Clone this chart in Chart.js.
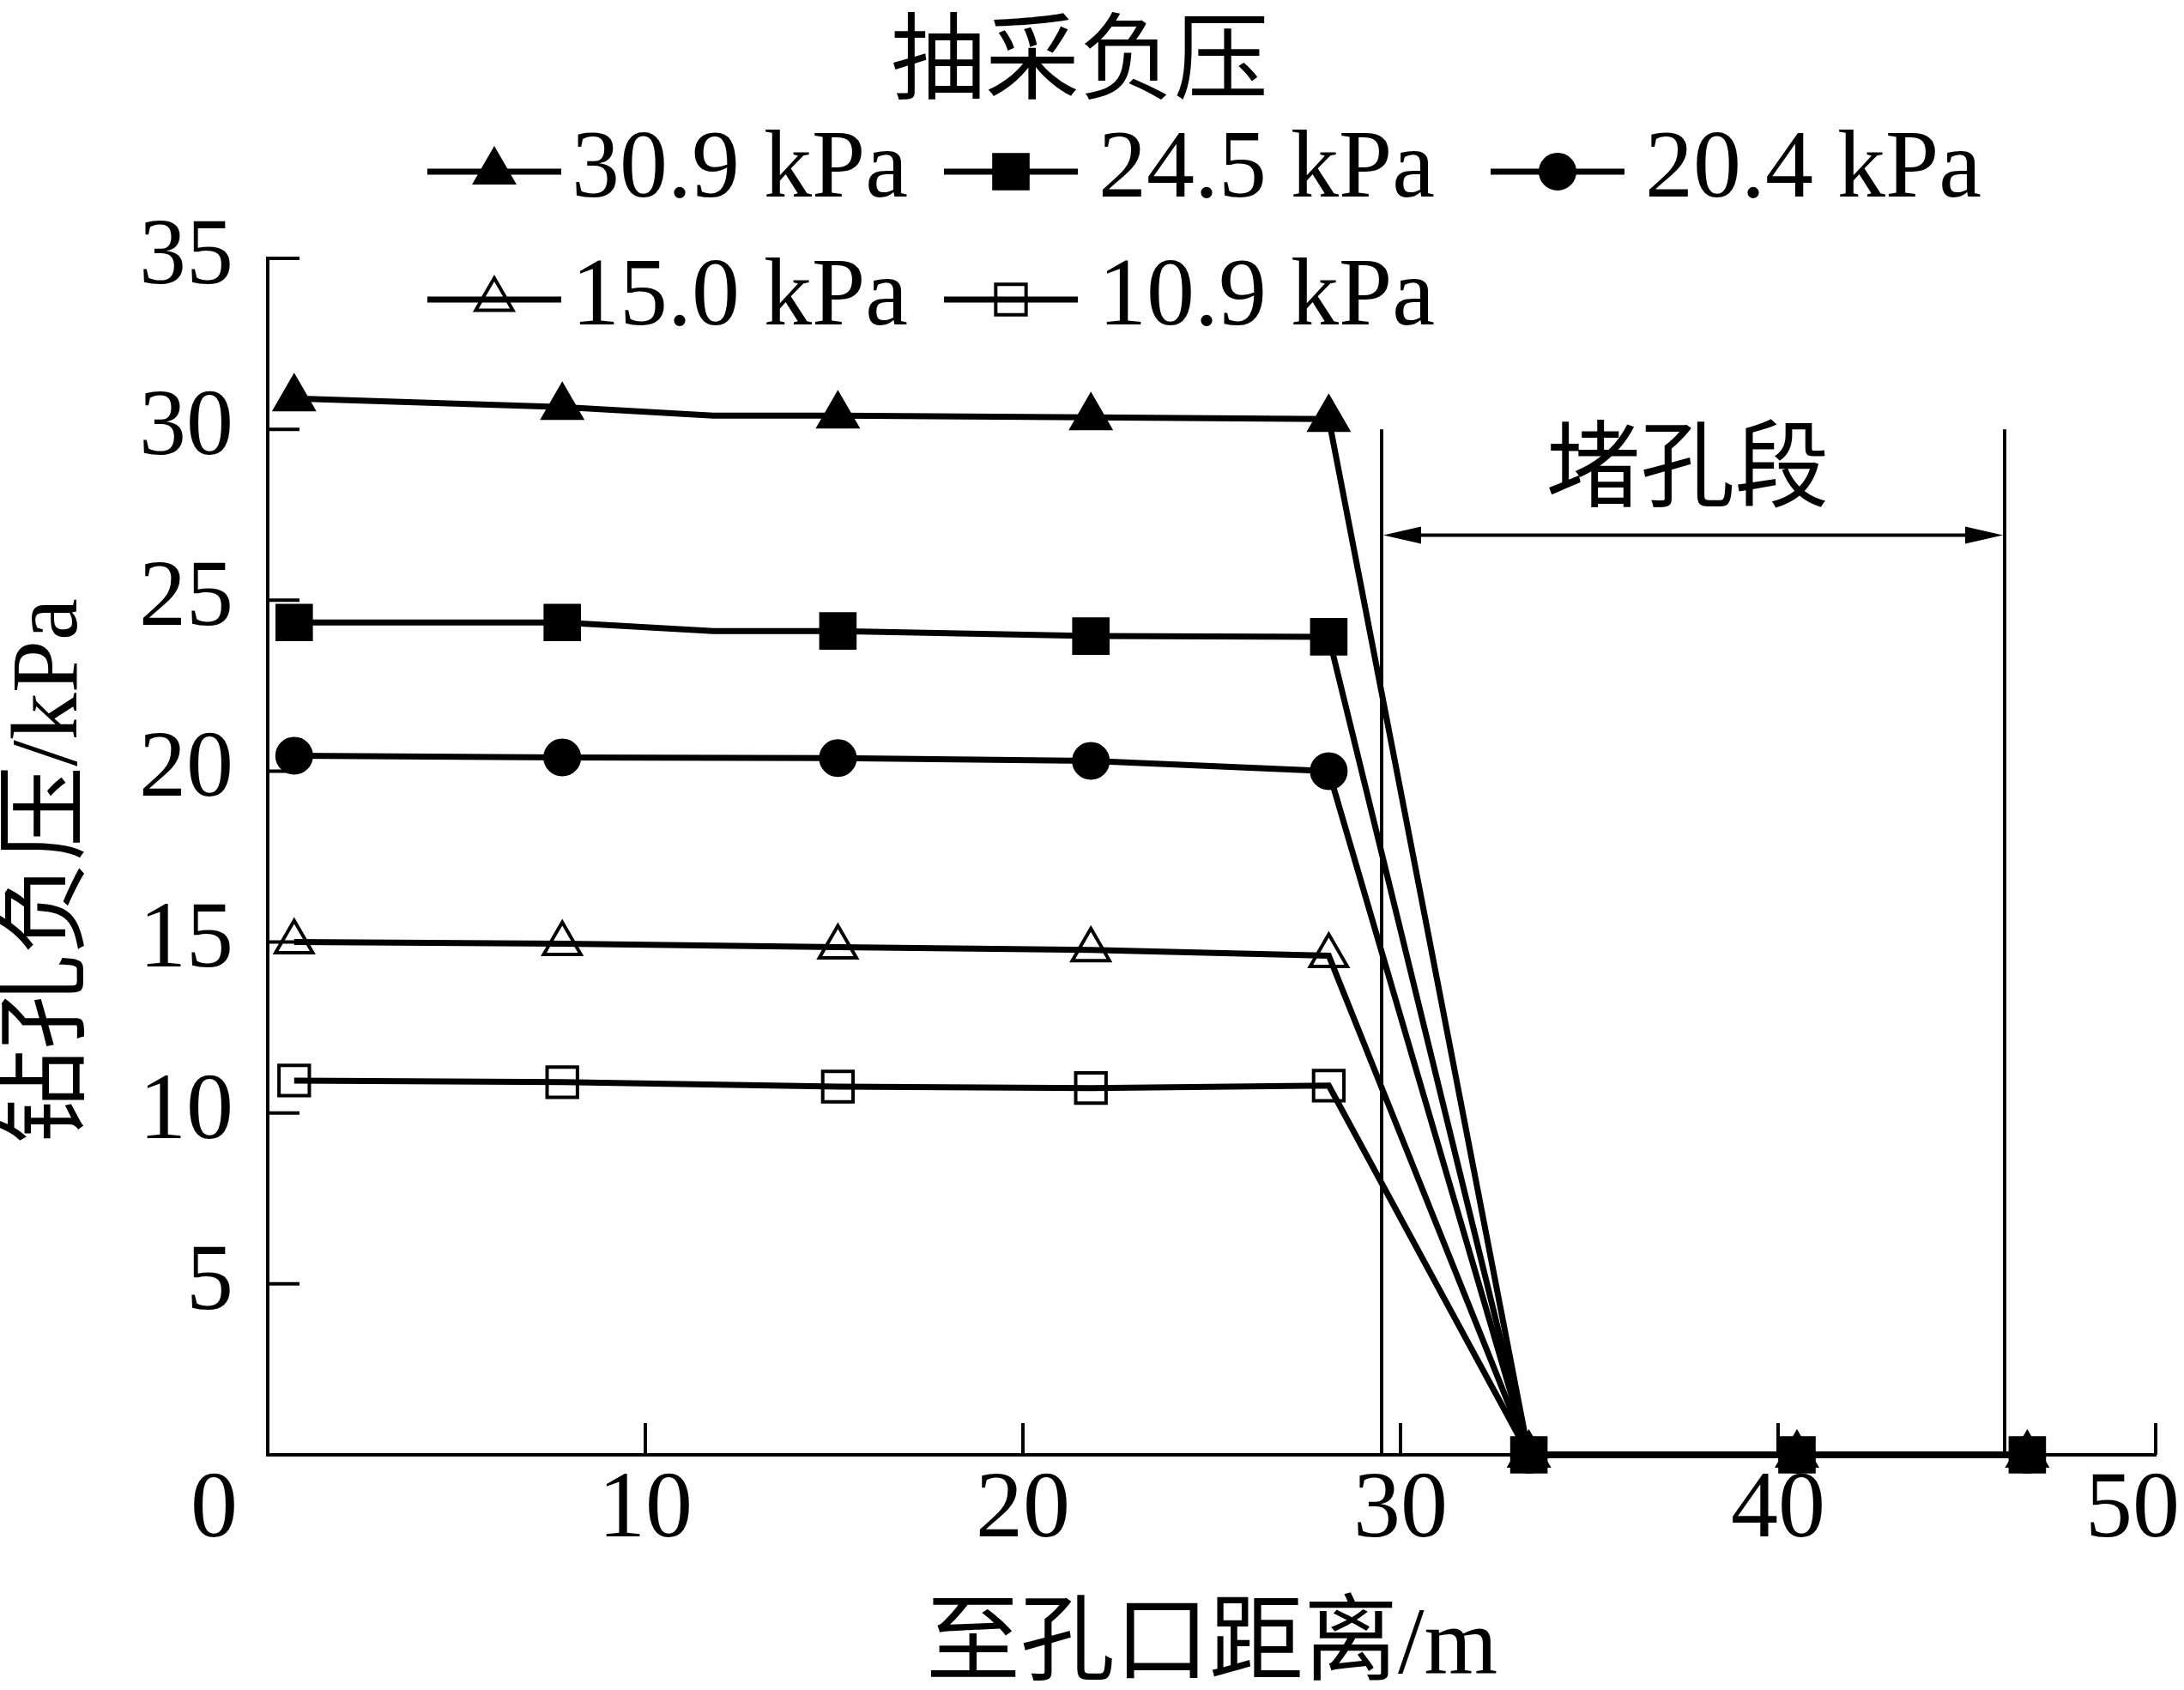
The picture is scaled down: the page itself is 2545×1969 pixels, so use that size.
<!DOCTYPE html>
<html>
<head>
<meta charset="utf-8">
<script src="https://cdn.jsdelivr.net/npm/chart.js@4.4.0/dist/chart.umd.min.js"></script>
<style>
  html, body { margin: 0; padding: 0; background: #fff; }
  #chart { display: block; }
</style>
</head>
<body>
<canvas id="chart" width="2545" height="1969"></canvas>
<script>
// distance from hole mouth, m
const distances = [0.7, 7.8, 15.1, 21.8, 28.1, 33.4, 40.5, 46.6];
const seriesLabels = ['30.9 kPa', '24.5 kPa', '20.4 kPa', '15.0 kPa', '10.9 kPa'];
// borehole negative pressure, kPa
const p309 = [30.9, 30.65, 30.4, 30.35, 30.3, 0, 0, 0];
const p245 = [24.35, 24.35, 24.1, 23.95, 23.93, 0, 0, 0];
const p204 = [20.45, 20.4, 20.38, 20.3, 20.0, 0, 0, 0];
const p150 = [15.0, 14.95, 14.85, 14.77, 14.6, 0, 0, 0];
const p109 = [10.95, 10.9, 10.77, 10.73, 10.8, 0, 0, 0];
// unmarked bend between 2nd and 3rd points
const bendX = 11.8;
const bend309 = 30.4;
const bend245 = 24.1;
const xTicks = [0, 10, 20, 30, 40, 50];
const yTicks = [0, 5, 10, 15, 20, 25, 30, 35];
// plugged section (堵孔段)
const plugStart = 29.5;
const plugEnd = 46;
const plugTop = 30;
const plugArrowY = 26.9;

const serif = '"Liberation Serif", "Noto Sans CJK SC", serif';
const cjk = '"Noto Sans CJK SC", "Liberation Serif", sans-serif';

function toPoints(ys, bendY) {
  const pts = distances.map((x, i) => ({ x: x, y: ys[i] }));
  if (bendY !== undefined) pts.splice(2, 0, { x: bendX, y: bendY, bend: true });
  return pts;
}

const markers = [
  { pointStyle: 'triangle', filled: true, radius: 26 },
  { pointStyle: 'rect', filled: true, radius: 28 },
  { pointStyle: 'circle', filled: true, radius: 20 },
  { pointStyle: 'triangle', filled: false, radius: 25 },
  { pointStyle: 'rect', filled: false, radius: 25 }
];

const allSeries = [toPoints(p309, bend309), toPoints(p245, bend245), toPoints(p204), toPoints(p150), toPoints(p109)];

const datasets = allSeries.map((pts, i) => {
  const m = markers[i];
  return {
    label: seriesLabels[i],
    data: pts,
    borderColor: '#000',
    borderWidth: 7,
    pointStyle: m.pointStyle,
    pointRadius: c => (c.raw && c.raw.bend) ? 0 : m.radius,
    pointBackgroundColor: m.filled ? '#000' : 'rgba(0,0,0,0)',
    pointBorderColor: '#000',
    pointBorderWidth: 4,
    tension: 0,
    fill: false,
    clip: false,
    order: i === 1 ? 0 : 1
  };
});

// legend, annotation, inward ticks and titles
const decor = {
  id: 'decor',
  afterDraw(chart) {
    const { ctx } = chart;
    const x = chart.scales.x, y = chart.scales.y;
    ctx.save();
    ctx.strokeStyle = '#000';
    ctx.fillStyle = '#000';

    // inward ticks
    ctx.lineWidth = 4;
    ctx.beginPath();
    xTicks.forEach(v => {
      if (v === 0) return;
      const px = x.getPixelForValue(v);
      ctx.moveTo(px, y.bottom);
      ctx.lineTo(px, y.bottom - 37);
    });
    yTicks.forEach(v => {
      if (v === 0) return;
      const py = y.getPixelForValue(v);
      ctx.moveTo(x.left, py);
      ctx.lineTo(x.left + 37, py);
    });
    ctx.stroke();

    // origin label and last x label kept inside the canvas
    ctx.font = '110px ' + serif;
    ctx.textAlign = 'right';
    ctx.textBaseline = 'middle';
    ctx.fillText('0', x.left - 35, y.bottom + 66);
    ctx.fillText(String(xTicks[xTicks.length - 1]), 2540, y.bottom + 66);

    // plugged section
    const xa = x.getPixelForValue(plugStart), xb = x.getPixelForValue(plugEnd);
    const yTop = y.getPixelForValue(plugTop), y0 = y.getPixelForValue(0);
    const ya = y.getPixelForValue(plugArrowY);
    ctx.lineWidth = 4;
    ctx.beginPath();
    ctx.moveTo(xa, yTop); ctx.lineTo(xa, y0);
    ctx.moveTo(xb, yTop); ctx.lineTo(xb, y0);
    ctx.moveTo(xa + 30, ya); ctx.lineTo(xb - 30, ya);
    ctx.stroke();
    ctx.beginPath();
    ctx.moveTo(xa + 2, ya); ctx.lineTo(xa + 46, ya - 10); ctx.lineTo(xa + 46, ya + 10); ctx.closePath();
    ctx.moveTo(xb - 2, ya); ctx.lineTo(xb - 46, ya - 10); ctx.lineTo(xb - 46, ya + 10); ctx.closePath();
    ctx.fill();
    ctx.font = '110px ' + cjk;
    ctx.textAlign = 'center';
    ctx.fillText('堵孔段', x.getPixelForValue(37.6), y.getPixelForValue(29.0));

    // axis titles
    ctx.font = '110px ' + serif;
    ctx.fillText('至孔口距离/m', (x.left + x.right) / 2, 1920);
    ctx.save();
    ctx.translate(60, 1015);
    ctx.rotate(-Math.PI / 2);
    ctx.fillText('钻孔负压/kPa', 0, 0);
    ctx.restore();

    // legend
    ctx.font = '110px ' + cjk;
    ctx.fillText('抽采负压', 1258, 65);
    const slots = [[498, 200], [1100, 200], [1737, 200], [498, 349], [1100, 349]];
    slots.forEach((s, i) => {
      const [lx, ly] = s;
      const m = markers[i];
      ctx.lineWidth = 7;
      ctx.beginPath();
      ctx.moveTo(lx, ly);
      ctx.lineTo(lx + 156, ly);
      ctx.stroke();
      ctx.lineWidth = 4;
      ctx.fillStyle = m.filled ? '#000' : 'rgba(0,0,0,0)';
      Chart.helpers.drawPoint(ctx, { pointStyle: m.pointStyle, radius: m.radius, rotation: 0, borderWidth: 4 }, lx + 78, ly);
      ctx.fillStyle = '#000';
      ctx.font = '112px ' + serif;
      ctx.textAlign = 'left';
      ctx.fillText(seriesLabels[i], lx + (i === 0 || i === 3 ? 168 : 180), ly);
    });
    ctx.restore();
  }
};

new Chart(document.getElementById('chart'), {
  type: 'line',
  data: { datasets: datasets },
  options: {
    responsive: false,
    animation: false,
    events: [],
    layout: { padding: { top: 301, right: 33, left: 0, bottom: 0 } },
    plugins: { legend: { display: false }, tooltip: { enabled: false } },
    scales: {
      x: {
        type: 'linear',
        min: 0,
        max: 50,
        afterFit: s => { s.height = 274; s.paddingLeft = 0; s.paddingRight = 0; },
        afterBuildTicks: s => { s.ticks = xTicks.map(v => ({ value: v })); },
        grid: { drawOnChartArea: false, drawTicks: false },
        border: { display: true, color: '#000', width: 4 },
        ticks: {
          color: '#000',
          padding: 11,
          maxRotation: 0,
          font: { family: 'Liberation Serif', size: 110, lineHeight: 1 },
          callback: v => (v === 0 || v === 50) ? '' : v
        }
      },
      y: {
        type: 'linear',
        min: 0,
        max: 35,
        afterFit: s => { s.width = 312; s.paddingTop = 0; s.paddingBottom = 0; },
        afterBuildTicks: s => { s.ticks = yTicks.map(v => ({ value: v })); },
        grid: { drawOnChartArea: false, drawTicks: false },
        border: { display: true, color: '#000', width: 4 },
        ticks: {
          color: '#000',
          padding: 40,
          font: { family: 'Liberation Serif', size: 110, lineHeight: 1 },
          callback: v => v === 0 ? '' : v
        }
      }
    }
  },
  plugins: [decor]
});
</script>
</body>
</html>
